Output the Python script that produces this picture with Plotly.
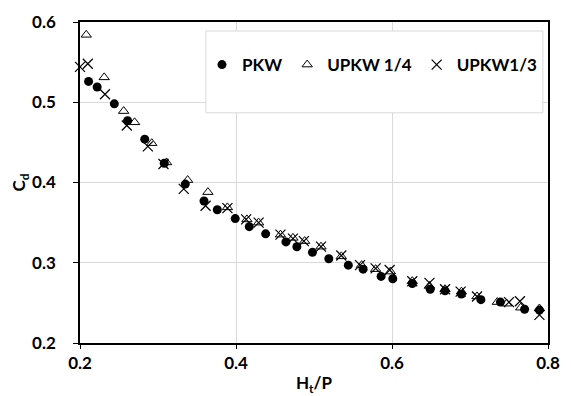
import plotly.graph_objects as go

# PKW (filled circles)
pkw_x = [0.211, 0.222, 0.244, 0.261, 0.283, 0.308, 0.335, 0.359, 0.376, 0.399,
         0.417, 0.438, 0.464, 0.478, 0.498, 0.519, 0.544, 0.563, 0.586, 0.601,
         0.626, 0.649, 0.668, 0.689, 0.714, 0.739, 0.770, 0.789]
pkw_y = [0.526, 0.519, 0.498, 0.477, 0.454, 0.424, 0.398, 0.377, 0.366, 0.355,
         0.345, 0.336, 0.326, 0.320, 0.313, 0.305, 0.297, 0.292, 0.283, 0.280,
         0.274, 0.267, 0.265, 0.261, 0.254, 0.251, 0.242, 0.241]

# UPKW 1/4 (open triangles)
u14_x = [0.208, 0.231, 0.256, 0.270, 0.292, 0.311, 0.338, 0.364, 0.389, 0.414,
         0.429, 0.457, 0.473, 0.488, 0.509, 0.535, 0.561, 0.579, 0.598, 0.626,
         0.648, 0.668, 0.689, 0.709, 0.735, 0.747, 0.765, 0.789]
u14_y = [0.584, 0.531, 0.489, 0.475, 0.449, 0.425, 0.403, 0.388, 0.369, 0.354,
         0.350, 0.335, 0.331, 0.327, 0.320, 0.308, 0.297, 0.292, 0.289, 0.277,
         0.271, 0.267, 0.264, 0.258, 0.251, 0.249, 0.244, 0.243]

# UPKW1/3 (crosses)
u13_x = [0.200, 0.210, 0.232, 0.260, 0.287, 0.307, 0.333, 0.361, 0.389, 0.413,
         0.429, 0.457, 0.473, 0.487, 0.509, 0.535, 0.559, 0.579, 0.597, 0.626,
         0.648, 0.668, 0.688, 0.709, 0.750, 0.764, 0.789]
u13_y = [0.544, 0.548, 0.510, 0.471, 0.445, 0.423, 0.392, 0.371, 0.368, 0.354,
         0.350, 0.335, 0.330, 0.327, 0.320, 0.309, 0.297, 0.293, 0.291, 0.277,
         0.275, 0.267, 0.264, 0.258, 0.251, 0.252, 0.235]

x_ticks = [0.2, 0.4, 0.6, 0.8]
y_ticks = [0.2, 0.3, 0.4, 0.5, 0.6]

FONT = "Lato"
FS = 17

fig = go.Figure()
fig.add_trace(go.Scatter(x=pkw_x, y=pkw_y, mode="markers", name="PKW", cliponaxis=False,
                         marker=dict(symbol="circle", size=9, color="black")))
fig.add_trace(go.Scatter(x=u14_x, y=u14_y, mode="markers", name="UPKW 1/4", cliponaxis=False,
                         marker=dict(symbol="triangle-up-open", size=9, color="black",
                                     line=dict(width=1, color="black"))))
fig.add_trace(go.Scatter(x=u13_x, y=u13_y, mode="markers", name="UPKW1/3", cliponaxis=False,
                         marker=dict(symbol="x-thin-open", size=10, color="black",
                                     line=dict(width=1.2, color="black"))))

fig.add_shape(type="rect", xref="x domain", yref="y domain",
              x0=0.269, x1=0.989, y0=0.717, y1=0.972,
              fillcolor="white", line=dict(color="#d9d9d9", width=1), layer="above")

# page body has an 8px default margin, so the figure is sized/offset to compensate
fig.update_layout(
    width=563, height=388,
    margin=dict(l=72, r=23, t=14, b=53),
    paper_bgcolor="white", plot_bgcolor="white",
    font=dict(family=FONT, color="black", size=FS),
    showlegend=True,
    legend=dict(orientation="h", x=0.625, xanchor="center", y=0.866, yanchor="middle",
                bgcolor="rgba(0,0,0,0)", borderwidth=0,
                font=dict(family=FONT, size=FS, weight=700, color="black")),
    xaxis=dict(range=[0.2, 0.8], tickvals=x_ticks, ticktext=[f"{v:.1f}" for v in x_ticks],
               automargin=False,
               showgrid=True, gridcolor="#d9d9d9", gridwidth=1,
               showline=True, linecolor="black", linewidth=1.5, mirror=True,
               ticks="outside", ticklen=4, tickcolor="black",
               tickfont=dict(family=FONT, size=FS, weight=700),
               title=dict(text="H<sub>t</sub>/P", font=dict(family=FONT, size=FS, weight=700),
                          standoff=11),
               zeroline=False),
    yaxis=dict(range=[0.2, 0.6], tickvals=y_ticks, ticktext=[f"{v:.1f}" for v in y_ticks],
               automargin=False,
               showgrid=True, gridcolor="#d9d9d9", gridwidth=1,
               showline=True, linecolor="black", linewidth=1.5, mirror=True,
               ticks="outside", ticklen=5, tickcolor="black", ticklabelstandoff=14,
               tickfont=dict(family=FONT, size=FS, weight=700),
               title=dict(text="C<sub>d</sub>", font=dict(family=FONT, size=FS, weight=700),
                          standoff=17),
               zeroline=False),
)

fig.write_html("out.html")
